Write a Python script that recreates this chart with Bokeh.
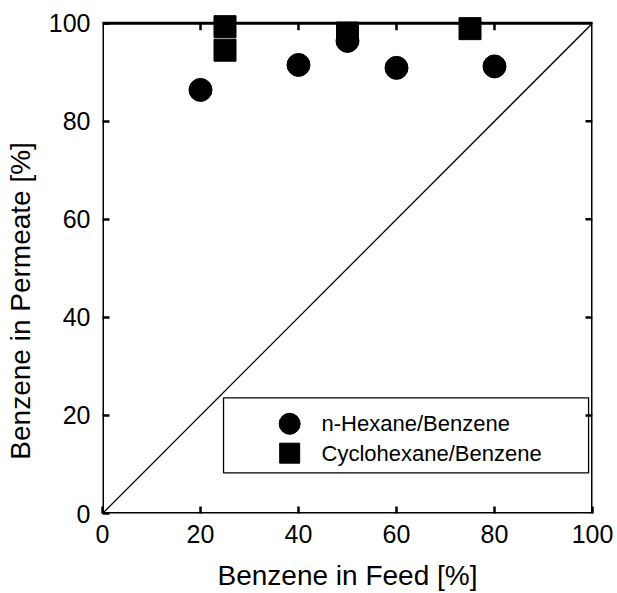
from bokeh.plotting import figure
from bokeh.models import Range1d, FixedTicker, BoxAnnotation, Slope
from bokeh.embed import file_html
from bokeh.resources import INLINE
from bokeh.core.properties import value

# ---- data ----
hexane_feed = [20, 40, 50, 60, 80]
hexane_perm = [86.4, 91.5, 96.4, 90.9, 91.2]
cyclo_feed = [25, 25, 50, 75]
cyclo_perm = [99.3, 94.5, 98.0, 98.9]
ticks = [0, 20, 40, 60, 80, 100]
series_names = ["n-Hexane/Benzene", "Cyclohexane/Benzene"]
x_title = "Benzene in Feed [%]"
y_title = "Benzene in Permeate [%]"

FONT = "Liberation Sans"
LO, HI = ticks[0], ticks[-1]
Y_TOP = 102.6          # a little room above the frame so the top markers are not cut
PX = 4.9               # pixels per data unit (layout helper)
TICK = 7               # inward tick length, px

p = figure(width=617, height=593, output_backend="svg", toolbar_location=None,
           x_range=Range1d(LO, HI), y_range=Range1d(LO, Y_TOP),
           min_border_left=102, min_border_right=25, min_border_top=10,
           min_border_bottom=80)
p.outline_line_color = None
p.grid.visible = False
p.background_fill_color = "white"
p.border_fill_color = "white"

for ax in (p.xaxis[0], p.yaxis[0]):
    ax.ticker = FixedTicker(ticks=ticks)
    ax.major_tick_in = TICK
    ax.major_tick_out = 0
    ax.minor_tick_in = 0
    ax.minor_tick_out = 0
    ax.major_tick_line_width = 2.5
    ax.major_tick_line_color = "black"
    ax.axis_line_color = None
    ax.major_label_text_font = FONT
    ax.major_label_text_font_size = "25px"
    ax.major_label_text_color = "black"
    ax.axis_label_text_font = FONT
    ax.axis_label_text_font_size = "28px"
    ax.axis_label_text_font_style = "normal"
    ax.axis_label_text_color = "black"

p.xaxis[0].major_label_standoff = 11
p.yaxis[0].major_label_standoff = 12
p.xaxis[0].axis_label = x_title
p.xaxis[0].axis_label_standoff = 14
# trailing no-break spaces shift the rotated title down, as in the reference
p.yaxis[0].axis_label = y_title + "\u00a0" * 10
p.yaxis[0].axis_label_standoff = 10

# frame box (drawn in data units so markers may extend above it)
frame = BoxAnnotation(left=LO, right=HI, bottom=LO, top=HI, fill_alpha=0,
                      line_color="black", line_alpha=1, line_width=3, level="underlay")
p.add_layout(frame)

# mirrored ticks on the top and right edges
inner = ticks[1:-1]
n = len(inner)
p.segment(x0=inner, y0=[HI] * n, x1=inner, y1=[HI - TICK / PX] * n,
          line_color="black", line_width=2.5)
p.segment(x0=[HI] * n, y0=inner, x1=[HI - TICK / PX] * n, y1=inner,
          line_color="black", line_width=2.5)

# diagonal y = x
p.add_layout(Slope(gradient=1, y_intercept=0, line_color="black", line_width=1.3))

# data
p.scatter(hexane_feed, hexane_perm, marker="circle", size=23, color="black")
p.scatter(cyclo_feed, cyclo_perm, marker="square", size=22, color="black")

# legend (manual, to get big markers)
leg_box = BoxAnnotation(left=24.7, right=99.2, bottom=8.3, top=23.6, fill_color="white",
                        fill_alpha=1, line_color="black", line_alpha=1, line_width=1.3,
                        level="underlay")
p.add_layout(leg_box)
leg_y = [18.3, 12.3]
p.scatter([38.2], [leg_y[0]], marker="circle", size=21, color="black")
p.scatter([38.2], [leg_y[1]], marker="square", size=20, color="black")
p.text(x=[44.7, 44.7], y=leg_y, text=series_names, text_font=value(FONT),
       text_font_size="22px", text_baseline="middle", text_align="left", text_color="black")

open("out.html", "w").write(file_html(p, INLINE))
